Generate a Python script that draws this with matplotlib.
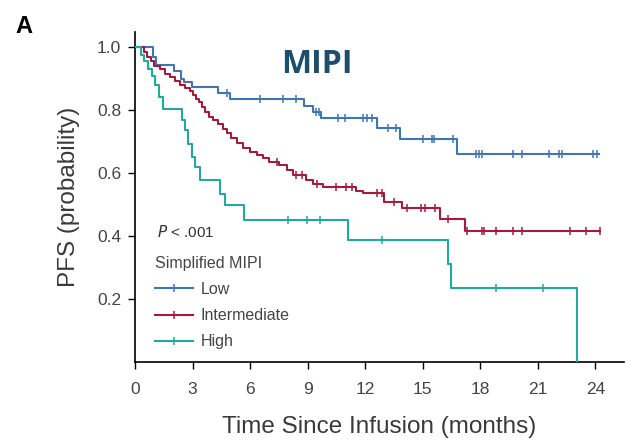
import numpy as np
import matplotlib.pyplot as plt
from matplotlib.lines import Line2D

# KM steps: (months, PFS)
low_t = [0, 0.92, 1.1, 2.05, 2.4, 2.55, 2.95, 4.35, 4.95, 8.8, 9.3, 9.7, 12.6, 13.8, 16.8]
low_s = [1.0, 0.97, 0.943, 0.925, 0.9, 0.89, 0.874, 0.856, 0.837, 0.815, 0.795, 0.775, 0.743, 0.708, 0.66]
low_end = 24.2
low_cens = [4.8, 6.5, 7.7, 8.4, 9.45, 9.6, 10.6, 10.95, 11.9, 12.1, 12.35, 13.2, 13.6,
            15.0, 15.5, 15.6, 16.6, 17.8, 17.95, 18.1, 19.7, 20.2, 21.6, 22.1, 22.25, 23.9, 24.1]

int_t = [0, 0.45, 0.6, 0.85, 1.0, 1.3, 1.55, 1.8, 2.1, 2.35, 2.6, 2.85, 3.05, 3.2, 3.35, 3.5,
         3.65, 3.85, 4.05, 4.35, 4.6, 4.8, 5.0, 5.3, 5.65, 6.0, 6.35, 6.7, 7.0, 7.5, 7.9, 8.25,
         8.9, 9.3, 9.8, 11.5, 11.9, 13.0, 13.9, 15.9, 17.2]
int_s = [1.0, 0.985, 0.97, 0.955, 0.94, 0.93, 0.915, 0.905, 0.893, 0.88, 0.872, 0.862, 0.85,
         0.837, 0.825, 0.81, 0.795, 0.78, 0.768, 0.755, 0.742, 0.728, 0.712, 0.695, 0.68, 0.668,
         0.657, 0.647, 0.636, 0.625, 0.61, 0.594, 0.578, 0.567, 0.557, 0.545, 0.537, 0.509,
         0.488, 0.456, 0.416]
int_end = 24.25
int_cens = [7.4, 8.4, 8.7, 9.5, 10.5, 11.0, 11.3, 12.6, 12.9, 13.5, 14.2, 14.9, 15.1, 15.65,
            16.3, 17.3, 18.1, 18.2, 18.8, 19.7, 20.2, 22.7, 23.5, 24.25]

high_t = [0, 0.3, 0.45, 0.7, 0.87, 1.04, 1.25, 1.48, 2.43, 2.6, 2.78, 2.95, 3.13, 3.4,
          4.45, 4.7, 5.7, 11.1, 16.3, 16.5, 23.07]
high_s = [1.0, 0.975, 0.955, 0.932, 0.91, 0.88, 0.842, 0.805, 0.768, 0.737, 0.694, 0.652,
          0.62, 0.578, 0.535, 0.5, 0.451, 0.387, 0.31, 0.234, 0.0]
high_end = 23.07
high_cens = [8.0, 8.96, 9.65, 12.9, 18.8, 21.3]

groups = ['Low', 'Intermediate', 'High']
colors = ['#3f76ad', '#a31c40', '#22a89c']

plt.rcParams['font.family'] = ['Liberation Sans', 'DejaVu Sans']

fig = plt.figure(figsize=(6.38, 4.47), dpi=100)
ax = fig.add_axes([0.2116, 0.19, 0.7665, 0.738])

series = [(low_t, low_s, low_end, low_cens),
          (int_t, int_s, int_end, int_cens),
          (high_t, high_s, high_end, high_cens)]
for (t, s, end, cens), c in zip(series, colors):
    tt = np.append(t, end)
    ss = np.append(s, s[-1])
    ax.step(tt, ss, where='post', color=c, lw=1.5, zorder=3)
    idx = np.searchsorted(t, cens, side='right') - 1
    ax.plot(cens, np.array(s)[idx], ls='none', marker='|', ms=6, mew=1.1, color=c, zorder=3)

ax.set_xlim(0, 25.5)
ax.set_ylim(0, 1.048)
ax.set_xticks(range(0, 25, 3))
ax.set_yticks([0.2, 0.4, 0.6, 0.8, 1.0])
ax.set_yticklabels(['0.2', '0.4', '0.6', '0.8', '1.0'])
ax.tick_params(labelsize=12.5, labelcolor='#444444', length=5, width=1, pad=5)
ax.tick_params(axis='x', pad=9)
ax.spines['top'].set_visible(False)
ax.spines['right'].set_visible(False)
for sp in ['left', 'bottom']:
    ax.spines[sp].set_linewidth(1.2)

ax.set_xlabel('Time Since Infusion (months)', fontsize=17.5, color='#3a3a3a', labelpad=14)
ax.set_ylabel('PFS (probability)', fontsize=17.5, color='#3a3a3a', labelpad=12)

handles = [Line2D([], [], color=c, lw=1.5, marker='|', ms=6, mew=1.1) for c in colors]
leg = ax.legend(handles, groups, title='Simplified MIPI', loc='upper left',
                bbox_to_anchor=(0.04, 0.322), frameon=False, fontsize=11.5,
                title_fontsize=11.5, handlelength=2.4, handletextpad=0.5,
                labelspacing=0.7, borderpad=0, borderaxespad=0, alignment='left')
for txt in leg.get_texts():
    txt.set_color('#444444')
leg.get_title().set_color('#444444')

ax.text(0.045, 0.395, r'$\it{P}$ < .001', transform=ax.transAxes, fontsize=11,
        color='#333333', va='center')

fig.text(0.497, 0.837, 'MIPI', fontsize=23, fontweight='bold', color='#1b4f6b',
         family=['Open Sans', 'DejaVu Sans'], ha='center', va='baseline')
fig.text(0.024, 0.926, 'A', fontsize=17, fontweight='bold', color='black', va='baseline')

fig.savefig('out.png', dpi=100)
